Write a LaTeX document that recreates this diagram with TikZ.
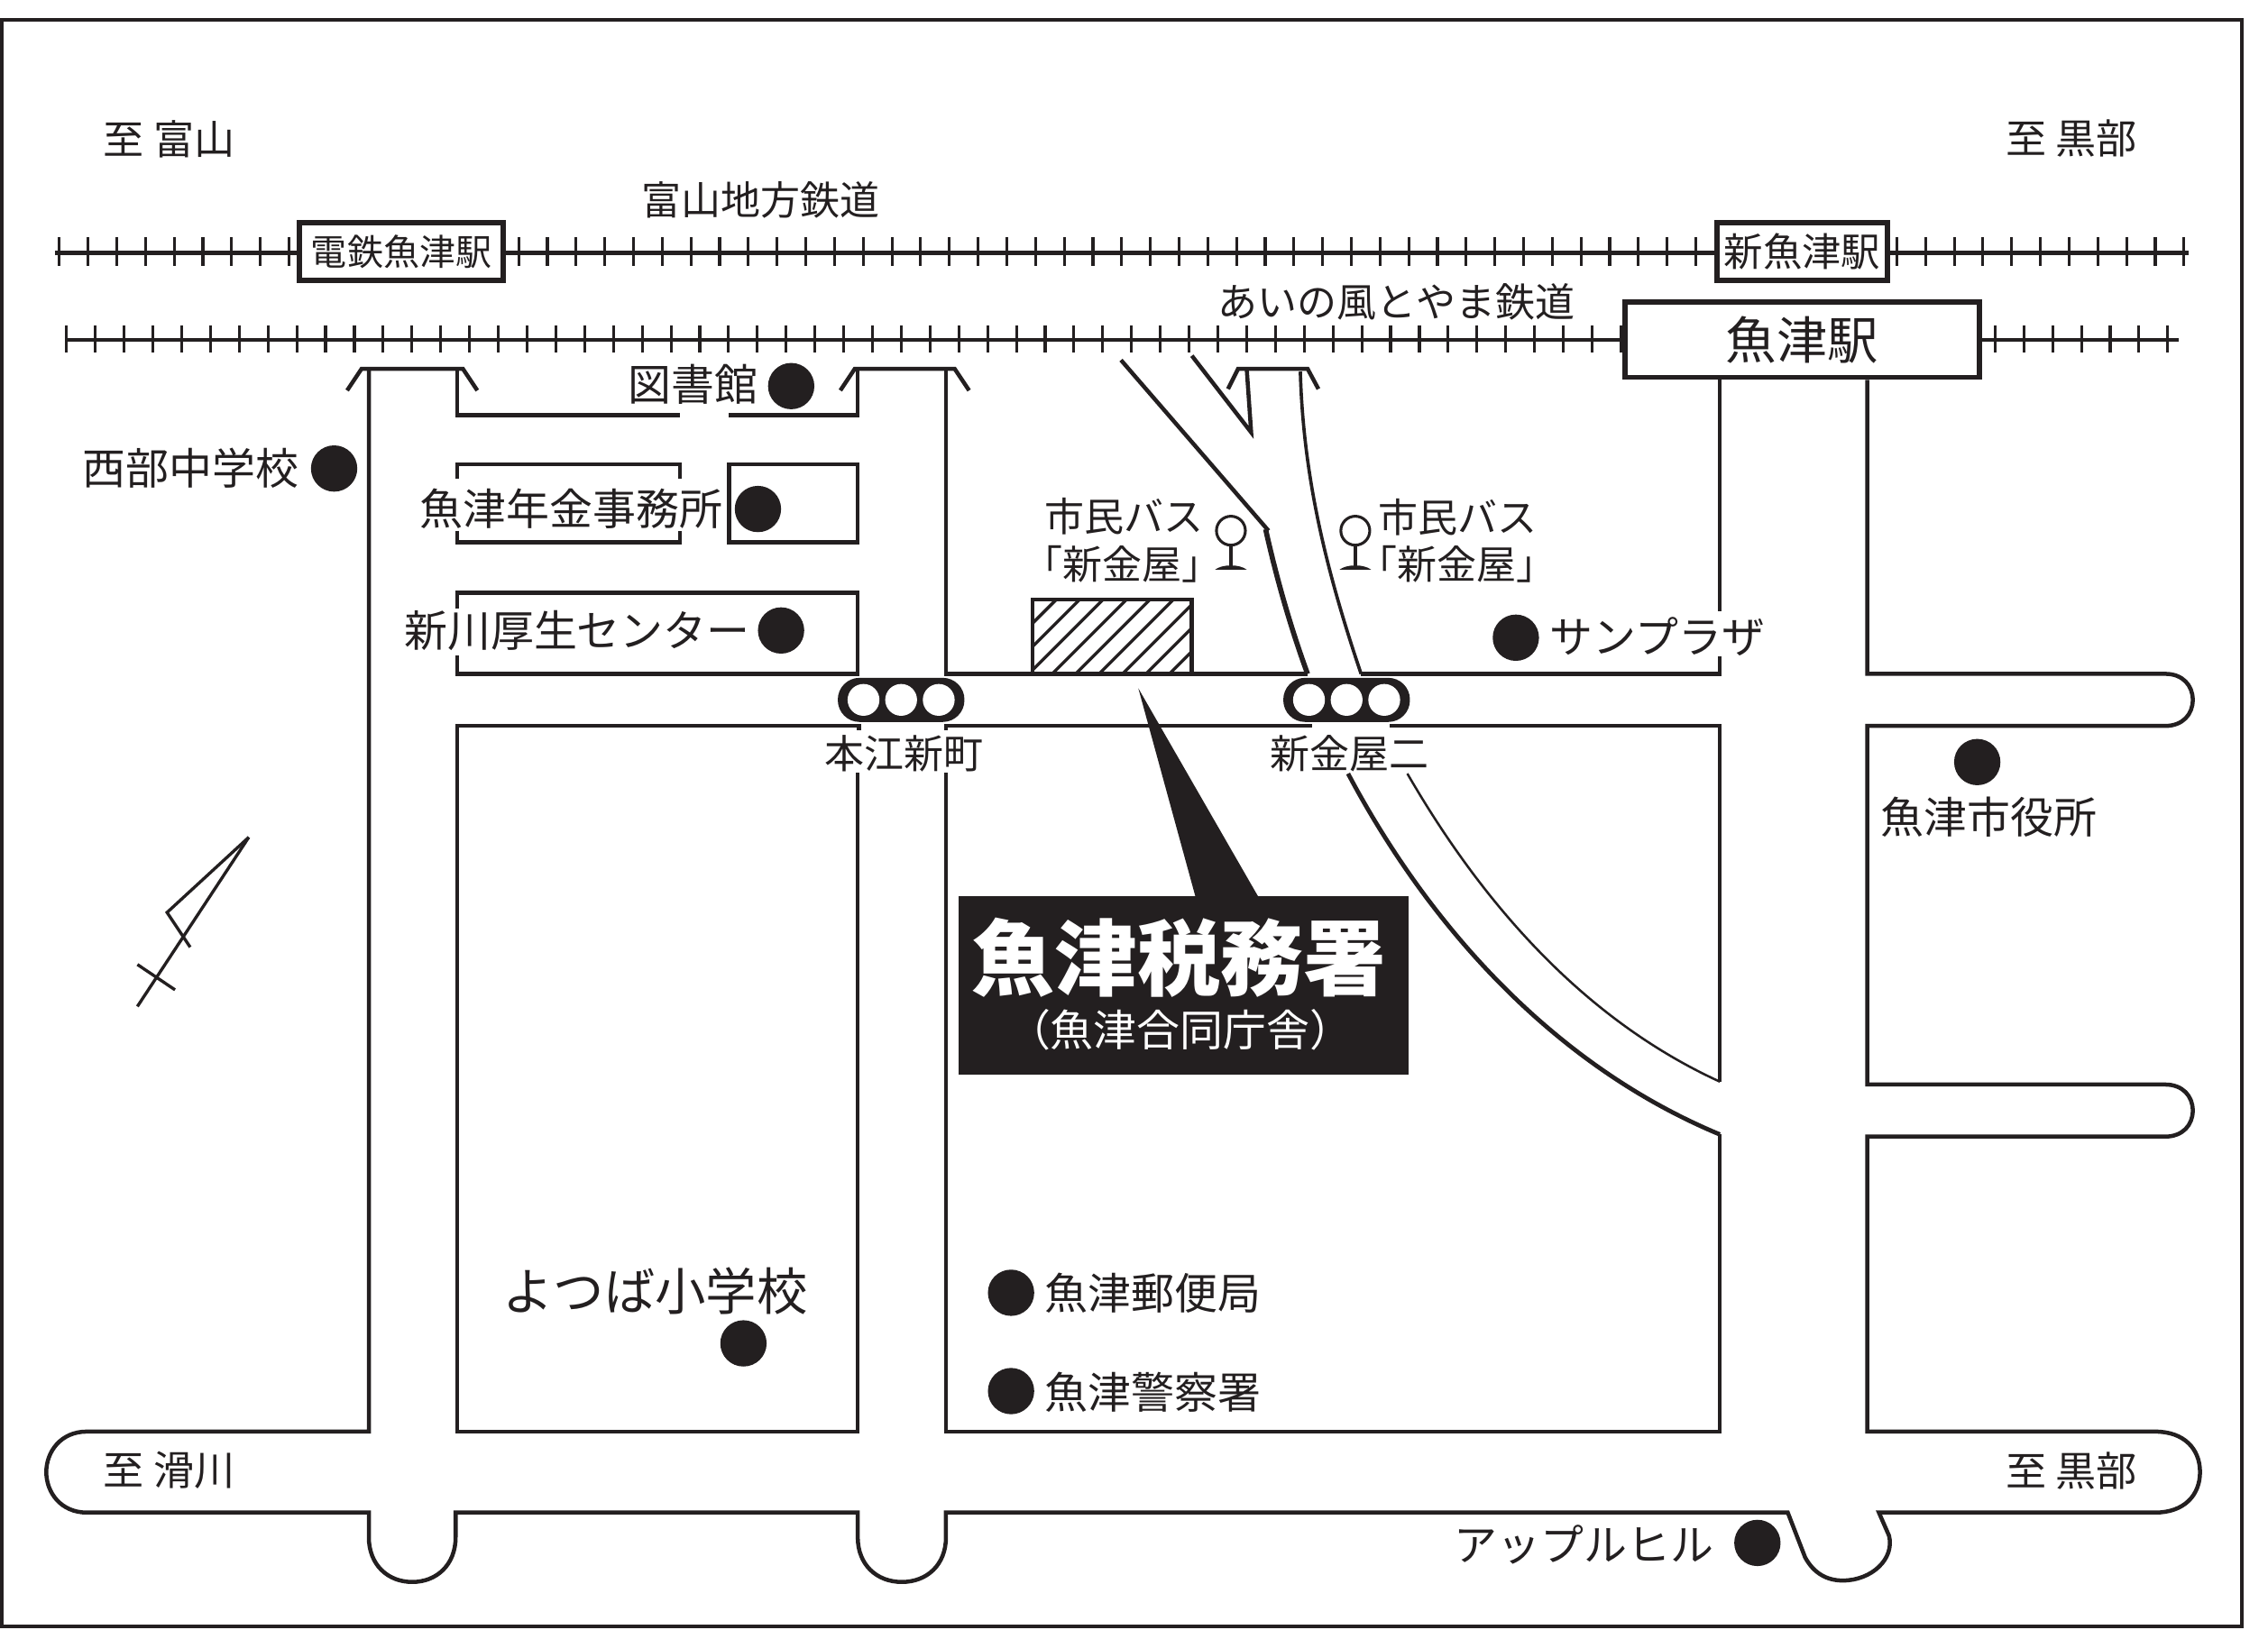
\documentclass[tikz,border=0pt]{standalone}
\usepackage{fontspec}
\setmainfont{Noto Sans CJK JP}
\definecolor{ink}{HTML}{231F20}
\tikzset{
	road/.style={line width=0.8pt,line join=miter},
	trackmain/.style={line width=0.9pt},
	tracktick/.style={line width=0.55pt},
	dot/.style={circle,fill=ink,inner sep=0pt,minimum size=0.32cm},
	lamp/.style={circle,fill=white,inner sep=0pt,minimum size=0.22cm},
	signalbar/.style={rectangle,rounded corners=0.15cm,fill=ink,inner sep=0pt,minimum width=0.875cm,minimum height=0.305cm},
	stationbox/.style={rectangle,draw=ink,fill=white,line width=1pt,inner sep=0pt,align=center},
	lblsmall/.style={inner sep=0pt,font=\fontsize{7.8pt}{10pt}\selectfont},
	lbldir/.style={inner sep=0pt,font=\fontsize{8pt}{10pt}\selectfont},
	lblmid/.style={inner sep=0pt,font=\fontsize{8.5pt}{10pt}\selectfont}
}
\begin{document}
\begin{tikzpicture}[x=0.01cm,y=-0.01cm,color=ink]
	\useasboundingbox (0,0) rectangle (1568,1127);
	\draw[line width=0.7pt] (1,13.5) rectangle (1550,1125);

	\coordinate (rail1w) at (38,175);
	\coordinate (rail1e) at (1513,175);
	\coordinate (rail2w) at (46,235);
	\coordinate (rail2e) at (1506,235);
	\draw[trackmain] (rail1w) -- (rail1e);
	\draw[trackmain,line width=0.65pt] (rail2w) -- (rail2e);
	\foreach \i in {0,...,74}
		\draw[tracktick] (41+19.85*\i,164) -- (41+19.85*\i,184);
	\foreach \i in {0,...,73}
		\draw[tracktick] (46+19.9*\i,225) -- (46+19.9*\i,244);
	\node[stationbox,minimum width=1.41cm,minimum height=0.40cm,font=\fontsize{7.1pt}{9pt}\selectfont] (dentetsu) at (277.5,174) {電鉄魚津駅};
	\node[stationbox,minimum width=1.18cm,minimum height=0.40cm,font=\fontsize{7.7pt}{9pt}\selectfont] (shinuozu) at (1246,174) {新魚津駅};
	\node[stationbox,minimum width=2.45cm,minimum height=0.52cm,font=\fontsize{10pt}{12pt}\selectfont] (uozu) at (1246,235) {魚津駅};

	\draw[road] (240,270) -- (250,255) -- (320,255) -- (330,270);
	\draw[road] (581,270) -- (591,255) -- (660,255) -- (670,270);
	\draw[road] (849,269) -- (856,255) -- (904,255) -- (911.5,269);
	\draw[road] (255,255) -- (255,990) -- (60,990)
		.. controls (42,990) and (32,1004) .. (32,1018)
		.. controls (32,1032) and (42,1046) .. (60,1046)
		-- (255,1046) -- (255,1063)
		.. controls (255,1082) and (268,1094) .. (285,1094)
		.. controls (302,1094) and (315,1082) .. (315,1063)
		-- (315,1046) -- (593,1046) -- (593,1063)
		.. controls (593,1082) and (606,1094) .. (623.5,1094)
		.. controls (641,1094) and (654,1082) .. (654,1063)
		-- (654,1046) -- (1236,1046) -- (1248,1077)
		.. controls (1254,1088) and (1263,1093) .. (1274,1093)
		.. controls (1294,1093) and (1310,1078) .. (1306,1062)
		-- (1299,1046) -- (1490,1046)
		.. controls (1510,1046) and (1521,1034) .. (1521,1018)
		.. controls (1521,1002) and (1510,990) .. (1490,990)
		-- (1291,990) -- (1291,786) -- (1497,786)
		.. controls (1509,786) and (1516,778) .. (1516,768)
		.. controls (1516,758) and (1509,750) .. (1497,750)
		-- (1291,750) -- (1291,502) -- (1497,502)
		.. controls (1509,502) and (1516,494) .. (1516,484)
		.. controls (1516,474) and (1509,466) .. (1497,466)
		-- (1291,466) -- (uozu.south -| 1291,0);
	\draw[road] (316,255) -- (316,287) -- (470,287);
	\draw[road] (504,287) -- (593,287) -- (593,255);
	\draw[road] (316,331) -- (316,321) -- (470,321) -- (470,331);
	\draw[road] (316,367) -- (316,375) -- (470,375) -- (470,367);
	\draw[road] (504,321) rectangle (593,375);
	\draw[road] (316,421) -- (316,410) -- (593,410) -- (593,466) -- (316,466) -- (316,453);
	\draw[road] (654,255) -- (654,466) -- (904,466);
	\draw[road] (594,505) -- (594,502) -- (316,502) -- (316,990) -- (593,990) -- (593,534.5);
	\draw[road] (654,505) -- (654,502) -- (907,502);
	\draw[road] (654,534.5) -- (654,990) -- (1189,990) -- (1189,784);
	\draw[road] (961,502) -- (1189,502) -- (1189,748);
	\draw[road] (uozu.south -| 1189,0) -- (1189,423);
	\draw[road] (1189,454) -- (1189,466) -- (941,466);
	\draw[line width=1pt] (875,366) .. controls (883,402) and (893,436) .. (904,466);
	\draw[line width=0.65pt] (899,257) .. controls (901,330) and (917,395) .. (941,466);
	\draw[road] (775,249) -- (877,367);
	\draw[road] (824,246) -- (865,299) -- (862,256);
	\draw[line width=0.85pt] (932,535) .. controls (985,635) and (1070,735) .. (1189,784.5);
	\draw[line width=0.45pt] (973,535) .. controls (1025,625) and (1095,705) .. (1189,748);

	\begin{scope}
		\clip (714,414) rectangle (824,466);
		\foreach \i in {0,...,9}
			\draw[line width=0.6pt] (808.5-16.2*\i,466) -- (860.5-16.2*\i,414);
	\end{scope}
	\draw[road] (714,466) -- (714,414.5) -- (824,414.5) -- (824,466);

	\foreach \x in {851,937} {
		\draw[line width=0.55pt] (\x,367) circle (10);
		\draw[line width=0.65pt] (\x,377) -- (\x,393);
		\fill (\x-11,394) .. controls (\x-6,390) and (\x+6,390) .. (\x+11,394) -- cycle;
	}

	\node[signalbar] (signalhonko) at (623,484) {};
	\node[lamp] (lamp1a) at (597,484) {};
	\node[lamp] (lamp1b) at (623,484) {};
	\node[lamp] (lamp1c) at (649,484) {};
	\node[signalbar] (signalshin) at (931,484) {};
	\node[lamp] (lamp2a) at (905,484) {};
	\node[lamp] (lamp2b) at (931,484) {};
	\node[lamp] (lamp2c) at (957,484) {};

	\node[rectangle,fill=ink,inner sep=0pt,minimum width=3.11cm,minimum height=1.235cm] (taxoffice) at (818.5,681.5) {};
	\coordinate (pointertip) at (787,476);
	\fill (pointertip) -- (827,622) -- (871,622) -- cycle;
	\node[inner sep=0pt,text=white,font=\fontsize{16.3pt}{18pt}\selectfont\bfseries] (taxname) at (815,662) {魚津税務署};
	\node[inner sep=0pt,text=white,font=\fontsize{8.5pt}{10pt}\selectfont] (taxsub) at (816,712) {（魚津合同庁舎）};

	\node[lbldir] (toyama) at (117,96) {至 富山};
	\node[lbldir] (kurobe1) at (1432,96) {至 黒部};
	\node[lblsmall] (chitetsu) at (526,138) {富山地方鉄道};
	\node[lblsmall] (ainokaze) at (965.5,209) {あいの風とやま鉄道};
	\node[lbldir] (namerikawa) at (117,1017) {至 滑川};
	\node[lbldir] (kurobe2) at (1432,1017) {至 黒部};
	\node[lblsmall] (honko) at (625,521) {本江新町};
	\node[lblsmall] (shinkanaya) at (933,521) {新金屋二};
	\node[lblsmall] (bus1) at (777,357) {市民バス};
	\node[lblsmall] (bus1b) at (776,390) {「新金屋」};
	\node[lblsmall] (bus2) at (1008,358) {市民バス};
	\node[lblsmall] (bus2b) at (1007,390) {「新金屋」};

	\node[dot] (dlib) at (547,267) {};
	\node[lblmid] (lib) at (479,266) {図書館};
	\node[dot] (dseibu) at (231,324) {};
	\node[lblmid] (seibu) at (132,324) {西部中学校};
	\node[dot] (dpension) at (524,352) {};
	\node[lblmid] (pension) at (395,352) {魚津年金事務所};
	\node[dot] (dkosei) at (540,436) {};
	\node[lblmid] (kosei) at (399,436) {新川厚生センター};
	\node[dot] (dplaza) at (1048,441) {};
	\node[lblmid] (plaza) at (1146,440) {サンプラザ};
	\node[dot] (dcity) at (1367,527) {};
	\node[lblmid] (city) at (1375,565) {魚津市役所};
	\node[dot] (dschool) at (514,929) {};
	\node[inner sep=0pt,font=\fontsize{10pt}{12pt}\selectfont] (school) at (453,893) {よつば小学校};
	\node[dot] (dpost) at (699,894) {};
	\node[lblmid] (post) at (797,894) {魚津郵便局};
	\node[dot] (dpolice) at (699,962) {};
	\node[lblmid] (police) at (797,963) {魚津警察署};
	\node[dot] (dapple) at (1215,1067) {};
	\node[lblmid] (apple) at (1095,1068) {アップルヒル};

	\draw[line width=0.6pt] (172,579) -- (95,696);
	\draw[line width=0.6pt] (172,579) -- (115.5,631) -- (131.5,655);
	\draw[line width=0.6pt] (95,667) -- (121,684.5);
\end{tikzpicture}
\end{document}
